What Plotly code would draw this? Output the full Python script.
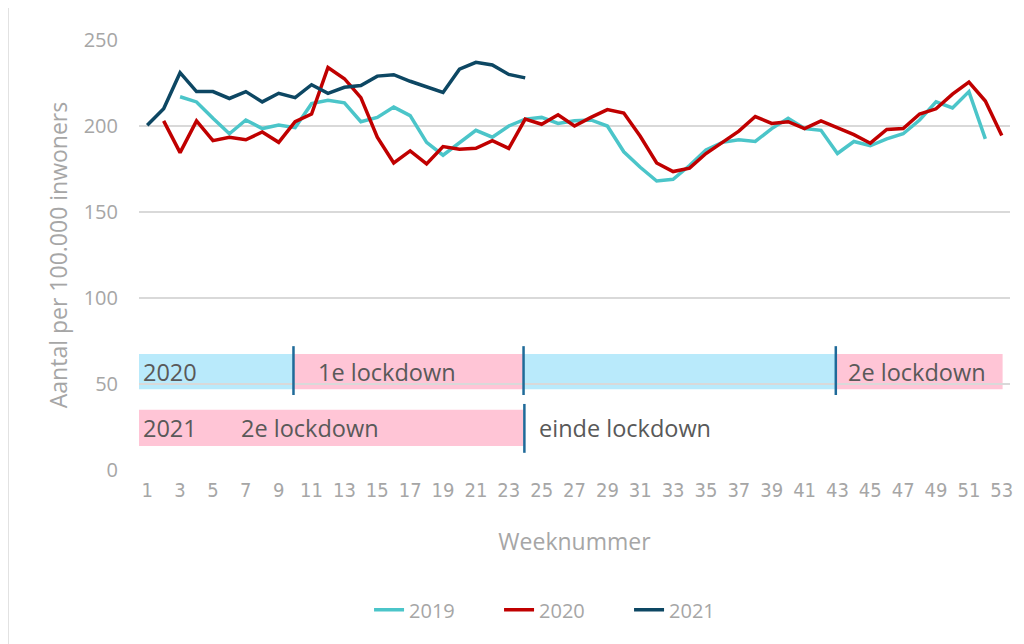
import plotly.graph_objects as go

# ---- data ----
weeks_2019 = list(range(3, 53))
values_2019 = [217, 214, 204.5, 195.5, 203.5, 198.5, 200.5, 199, 213, 215,
               213.5, 202.5, 205, 211, 206, 190.5, 183, 190.5, 197.5, 193.5,
               200, 204, 205, 201.5, 203, 203.5, 200, 185, 176, 168,
               169, 177, 186, 190.5, 192, 191, 198.5, 204.5, 198.5, 197.5,
               184, 191, 188.5, 192.5, 195.5, 203.5, 214, 210.5, 220, 192.5]

weeks_2020 = list(range(2, 54))
values_2020 = [203, 184.5, 203, 191.5, 193.5, 192, 196.5, 190.5, 202.5, 207,
               234, 227.5, 216.5, 193.5, 178.5, 185.5, 178, 188, 186.5, 187,
               191.5, 187, 204, 201, 206.5, 200, 205, 209.5, 207.5, 194,
               178.5, 173.5, 175.5, 184, 190.5, 197, 205.5, 201.5, 202.5, 198.5,
               203, 199, 195, 190, 198, 198.5, 207, 210, 218.5, 225.5,
               214.5, 194.5]

weeks_2021 = list(range(1, 25))
values_2021 = [200.5, 210, 231, 220, 220, 216, 220, 214, 219, 216.5,
               224, 219, 222.5, 223.5, 229, 229.8, 226, 222.5, 219.5, 233,
               237, 235.5, 230, 228]

series_names = ["2019", "2020", "2021"]
series_colors = ["#4BC5C9", "#C00000", "#0D4763"]

x_ticks = list(range(1, 54, 2))
y_ticks = [0, 50, 100, 150, 200, 250]

# period bands (week boundaries) for the annotation rows
row2020_starts = [0.45, 9.9, 23.9, 42.9]
row2020_ends = [9.9, 23.9, 42.9, 53.05]
row2020_colors = ["#B9EAFB", "#FFC5D6", "#B9EAFB", "#FFC5D6"]
row2020_y = [47, 67.4]
row2020_markers = [9.9, 23.9, 42.9]
row2020_marker_y = [43.6, 72]

row2021_starts = [0.45]
row2021_ends = [23.9]
row2021_colors = ["#FFC5D6"]
row2021_y = [14, 35]
row2021_markers = [23.95]
row2021_marker_y = [10, 38.4]

label_texts = ["2020", "1e lockdown", "2e lockdown", "2021", "2e lockdown", "einde lockdown"]
label_x = [0.65, 11.25, 43.5, 0.65, 6.6, 24.7]
label_y = [57.2, 57.2, 57.2, 24.4, 24.4, 24.4]

# ---- figure ----
fig = go.Figure()
for wk, vals, name, col in zip([weeks_2019, weeks_2020, weeks_2021],
                               [values_2019, values_2020, values_2021],
                               series_names, series_colors):
    fig.add_trace(go.Scatter(x=wk, y=vals, name=name, mode="lines",
                             line=dict(color=col, width=3.5)))

shapes = []
for x0, x1, c in zip(row2020_starts, row2020_ends, row2020_colors):
    shapes.append(dict(type="rect", xref="x", yref="y", x0=x0, x1=x1,
                       y0=row2020_y[0], y1=row2020_y[1], fillcolor=c,
                       line=dict(width=0), layer="below"))
for x0, x1, c in zip(row2021_starts, row2021_ends, row2021_colors):
    shapes.append(dict(type="rect", xref="x", yref="y", x0=x0, x1=x1,
                       y0=row2021_y[0], y1=row2021_y[1], fillcolor=c,
                       line=dict(width=0), layer="below"))
for xm in row2020_markers:
    shapes.append(dict(type="line", xref="x", yref="y", x0=xm, x1=xm,
                       y0=row2020_marker_y[0], y1=row2020_marker_y[1],
                       line=dict(color="#1F6A99", width=2.5)))
for xm in row2021_markers:
    shapes.append(dict(type="line", xref="x", yref="y", x0=xm, x1=xm,
                       y0=row2021_marker_y[0], y1=row2021_marker_y[1],
                       line=dict(color="#1F6A99", width=2.5)))
# chart-area left border
shapes.append(dict(type="line", xref="paper", yref="paper", x0=-0.1504, x1=-0.1504,
                   y0=-0.45, y1=1.1, line=dict(color="#D9D9D9", width=1.5)))

annotations = []
for t, xa, ya in zip(label_texts, label_x, label_y):
    annotations.append(dict(text=t, x=xa, y=ya, xref="x", yref="y",
                            xanchor="left", yanchor="middle", showarrow=False,
                            font=dict(family="Open Sans", size=23.5, color="#595959")))

fig.update_layout(
    width=1024, height=644,
    margin=dict(l=131, r=22, t=32, b=182),
    paper_bgcolor="white", plot_bgcolor="white",
    shapes=shapes, annotations=annotations,
    showlegend=True,
    legend=dict(orientation="h", x=0.488, xanchor="center", y=-0.325, yanchor="middle",
                font=dict(family="Open Sans", size=20, color="#A6A6A6"),
                entrywidth=85, traceorder="normal"),
    xaxis=dict(range=[0.5, 53.5], tickmode="array", tickvals=x_ticks,
               ticktext=[str(v) for v in x_ticks], tickangle=0,
               showgrid=False, zeroline=False, showline=False,
               tickfont=dict(family="Liberation Sans Narrow, DejaVu Sans Condensed, Arial Narrow, sans-serif",
                             size=20, color="#A6A6A6"),
               ticklabelstandoff=6,
               title=dict(text="Weeknummer", standoff=32,
                          font=dict(family="Open Sans", size=23, color="#A6A6A6"))),
    yaxis=dict(range=[0, 250], tickmode="array", tickvals=y_ticks,
               showgrid=True, gridcolor="#D9D9D9", gridwidth=1.5,
               zeroline=False, showline=False,
               tickfont=dict(family="Open Sans", size=20, color="#A6A6A6"),
               ticklabelstandoff=20,
               title=dict(text="Aantal per 100.000 inwoners", standoff=9,
                          font=dict(family="Open Sans", size=23, color="#A6A6A6"))),
)

fig.write_html("out.html")
